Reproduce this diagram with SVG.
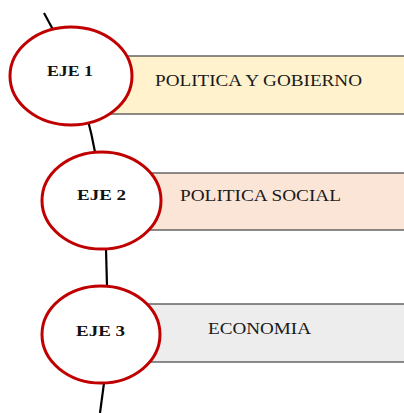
<svg xmlns="http://www.w3.org/2000/svg" width="404" height="413" viewBox="0 0 404 413">
<style>
.bar{stroke:#404040;stroke-width:1.2}
.ring{fill:#fff;stroke:#C00000;stroke-width:3}
.conn{fill:none;stroke:#000;stroke-width:2.2}
.lbl{font-family:"Liberation Serif",serif;font-size:16px;fill:#1a1a1a}
.eje{font-family:"Liberation Serif",serif;font-size:15px;font-weight:bold;fill:#111}
</style>
<rect width="404" height="413" fill="#fff"/>
<g id="connectors">
<path class="conn" d="M44,13 Q82,80 95,152"/>
<path class="conn" d="M106,249 L107,286"/>
<path class="conn" d="M104,383 L100,413"/>
</g>
<g id="eje1">
<rect class="bar" x="80" y="56" width="330" height="58" fill="#FFF2CC"/>
<ellipse class="ring" cx="71" cy="76" rx="61" ry="49"/>
<text class="eje" x="47" y="75.5" textLength="46" lengthAdjust="spacingAndGlyphs">EJE 1</text>
<text class="lbl" x="155" y="85.5" textLength="207" lengthAdjust="spacingAndGlyphs">POLITICA Y GOBIERNO</text>
</g>
<g id="eje2">
<rect class="bar" x="110" y="173" width="300" height="57" fill="#FBE5D6"/>
<ellipse class="ring" cx="101.5" cy="200.5" rx="59.5" ry="48.5"/>
<text class="eje" x="77" y="200" textLength="49" lengthAdjust="spacingAndGlyphs">EJE 2</text>
<text class="lbl" x="180" y="201" textLength="161" lengthAdjust="spacingAndGlyphs">POLITICA SOCIAL</text>
</g>
<g id="eje3">
<rect class="bar" x="110" y="304" width="300" height="58" fill="#EDEDED"/>
<ellipse class="ring" cx="101" cy="334.5" rx="59" ry="48.5"/>
<text class="eje" x="76" y="336" textLength="49" lengthAdjust="spacingAndGlyphs">EJE 3</text>
<text class="lbl" x="208" y="334" textLength="103" lengthAdjust="spacingAndGlyphs">ECONOMIA</text>
</g>
</svg>
